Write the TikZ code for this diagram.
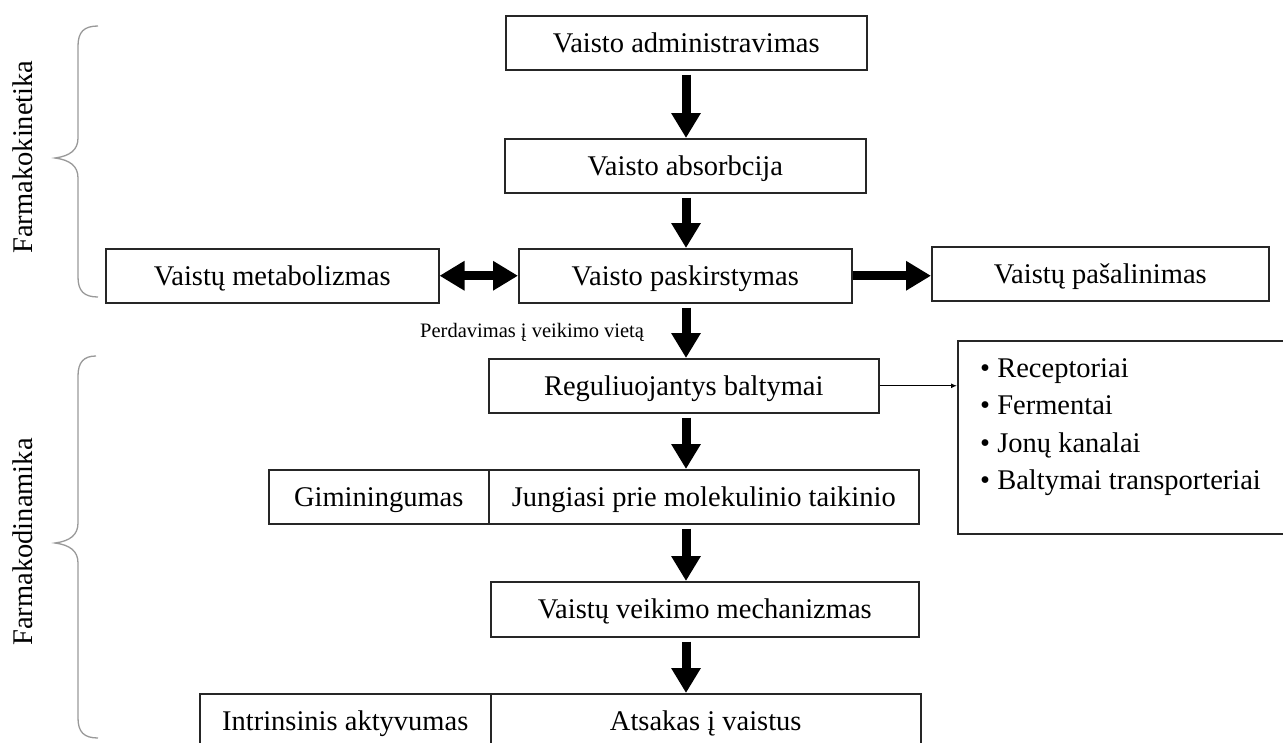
\documentclass[tikz,border=0pt]{standalone}
\usepackage{fontspec}
\setmainfont{Liberation Serif}
\usetikzlibrary{arrows.meta}
\begin{document}
\begin{tikzpicture}[x=1pt,y=-1pt,
  box/.style={draw=black!85, line width=1.5pt, inner sep=0pt, anchor=north west,
    font=\fontsize{28.5}{34}\selectfont, text height=19pt, text depth=0pt},
  bigarrow/.style={line width=9pt, -{Triangle[length=25pt,width=28pt]}, shorten <=4pt},
  bigdouble/.style={line width=9pt, {Triangle[length=25pt,width=28pt]}-{Triangle[length=25pt,width=28pt]}},
  thinarrow/.style={line width=1.3pt, -{Latex[length=6pt,width=5pt]}},
  brace/.style={draw=black!40, line width=1.3pt},
  biglabel/.style={font=\fontsize{28.5}{34}\selectfont, inner sep=0pt}]
\clip (0,0) rectangle (1283,742);
% boxes
\node[box, minimum width=361pt, minimum height=54pt] (adm) at (505,15) {Vaisto administravimas};
\node[box, minimum width=361pt, minimum height=54pt] (abs) at (504,138) {Vaisto absorbcija};
\node[box, minimum width=333pt, minimum height=54pt] (pask) at (518,248) {Vaisto paskirstymas};
\node[box, minimum width=333pt, minimum height=54pt] (met) at (105,248) {Vaistų metabolizmas};
\node[box, minimum width=337pt, minimum height=54pt] (pas) at (931,246) {Vaistų pašalinimas};
\node[box, minimum width=390pt, minimum height=54pt] (reg) at (488,358) {Reguliuojantys baltymai};
\node[box, minimum width=345pt, minimum height=193pt] (list) at (957,340) {};
\node[box, minimum width=430pt, minimum height=54pt] (jung) at (488,469) {Jungiasi prie molekulinio taikinio};
\node[box, minimum width=220pt, minimum height=54pt] (gim) at (268,469) {Giminingumas};
\node[box, minimum width=428pt, minimum height=55pt] (mech) at (490,581) {Vaistų veikimo mechanizmas};
\node[box, minimum width=430pt, minimum height=54pt] (ats) at (490,693) {Atsakas į vaistus};
\node[box, minimum width=291pt, minimum height=54pt] (intr) at (199,693) {Intrinsinis aktyvumas};
% list text
\node[anchor=north west, align=left, inner sep=0pt, font=\fontsize{28.5}{37.5}\selectfont] (items) at (980,358)
  {• Receptoriai\\• Fermentai\\• Jonų kanalai\\• Baltymai transporteriai};
% label
\node[anchor=base west, inner sep=0pt, font=\fontsize{20.5}{24}\selectfont] (perd) at (420,337) {Perdavimas į veikimo vietą};
% vertical labels
\node[biglabel, rotate=90] (fk) at (23,157) {Farmakokinetika};
\node[biglabel, rotate=90] (fd) at (23,542) {Farmakodinamika};
% arrows
\coordinate (ax) at (686,0);
\draw[bigarrow] (adm.south -| ax) -- (abs.north -| ax);
\draw[bigarrow] (abs.south -| ax) -- (pask.north -| ax);
\draw[bigarrow] (pask.south -| ax) -- (reg.north -| ax);
\draw[bigarrow] (reg.south -| ax) -- (jung.north -| ax);
\draw[bigarrow] (jung.south -| ax) -- (mech.north -| ax);
\draw[bigarrow] (mech.south -| ax) -- (ats.north -| ax);
\draw[bigdouble] (met.east) -- (pask.west);
\draw[bigarrow, shorten <=0pt] (pask.east) -- (pask.east -| pas.west);
\draw[thinarrow] (reg.east) -- (reg.east -| list.west);
% braces
\draw[brace] (98,26) .. controls (84,26) and (78,32) .. (78,46) -- (78,138)
  .. controls (78,150) and (70,156) .. (55,158) .. controls (70,160) and (78,166) .. (78,178)
  -- (78,277) .. controls (78,291) and (84,297) .. (98,297);
\draw[brace] (96,356) .. controls (84,356) and (78,362) .. (78,376) -- (78,523)
  .. controls (78,535) and (70,541) .. (55,543) .. controls (70,545) and (78,551) .. (78,563)
  -- (78,718) .. controls (78,732) and (84,738) .. (98,738);
\end{tikzpicture}
\end{document}
